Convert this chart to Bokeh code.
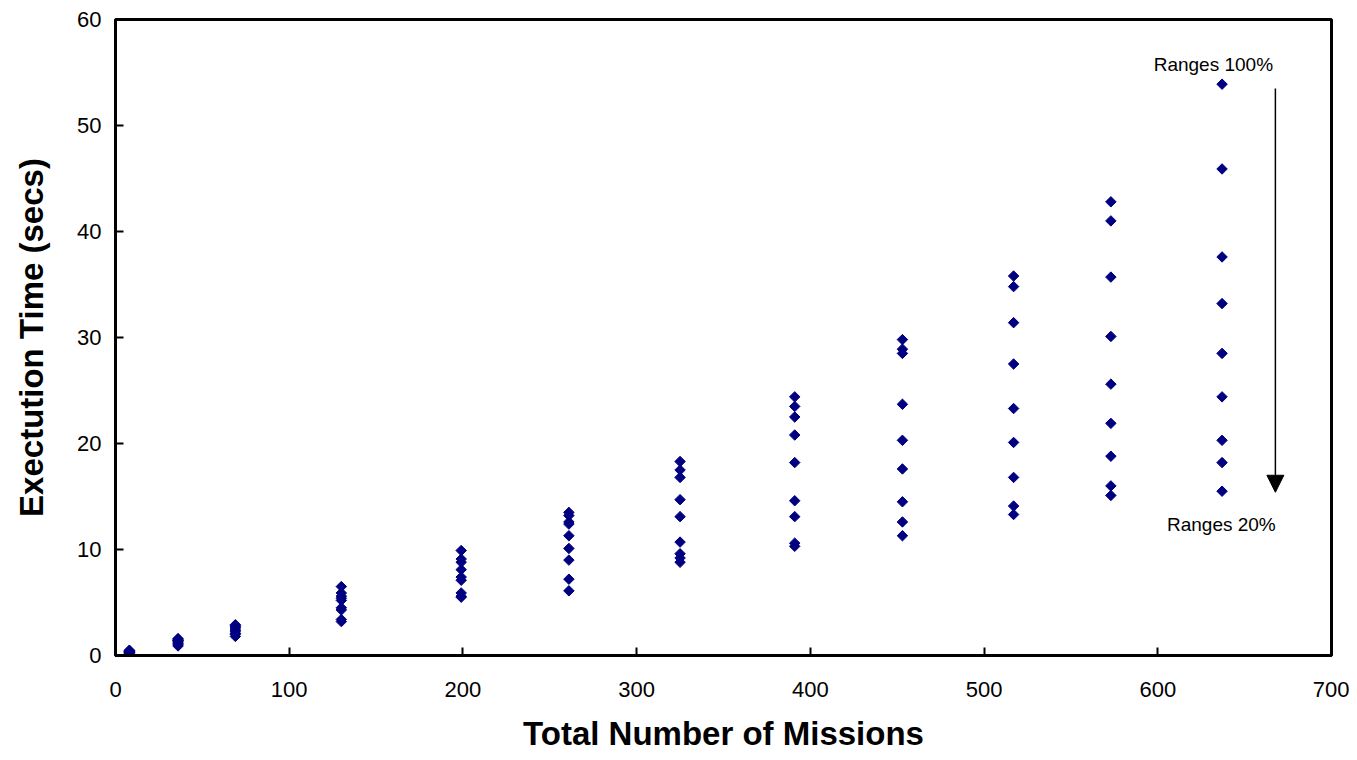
from bokeh.plotting import figure
from bokeh.models import Range1d, FixedTicker, Label, Arrow, NormalHead, ColumnDataSource
from bokeh.embed import file_html
from bokeh.resources import INLINE

# ---- data ----
missions = [8, 36, 69, 130, 199, 261, 325, 391, 453, 517, 573, 637]
range_100 = [0.5, 1.6, 2.9, 6.5, 9.9, 13.5, 18.3, 24.4, 29.8, 35.8, 42.8, 53.9]
range_90 = [0.45, 1.5, 2.8, 5.9, 9.1, 13.2, 17.5, 23.5, 28.9, 34.8, 41.0, 45.9]
range_80 = [0.4, 1.4, 2.7, 5.6, 8.8, 12.6, 16.8, 22.5, 28.5, 31.4, 35.7, 37.6]
range_70 = [0.4, 1.4, 2.6, 5.4, 8.1, 12.4, 14.7, 20.8, 23.7, 27.5, 30.1, 33.2]
range_60 = [0.35, 1.3, 2.4, 5.2, 7.4, 11.3, 13.1, 18.2, 20.3, 23.3, 25.6, 28.5]
range_50 = [0.3, 1.2, 2.3, 4.5, 7.1, 10.1, 10.7, 14.6, 17.6, 20.1, 21.9, 24.4]
range_40 = [0.3, 1.1, 2.1, 4.3, 5.9, 9.0, 9.6, 13.1, 14.5, 16.8, 18.8, 20.3]
range_30 = [0.25, 1.0, 2.0, 3.4, 5.6, 7.2, 9.2, 10.6, 12.6, 14.1, 16.0, 18.2]
range_20 = [0.2, 0.9, 1.8, 3.2, 5.5, 6.1, 8.8, 10.3, 11.3, 13.3, 15.1, 15.5]
x_ticks = [0, 100, 200, 300, 400, 500, 600, 700]
y_ticks = [0, 10, 20, 30, 40, 50, 60]
x_title = "Total Number of Missions"
y_title = "Exectution Time (secs)"
top_note = "Ranges 100%"
bottom_note = "Ranges 20%"

all_series = [range_100, range_90, range_80, range_70, range_60,
              range_50, range_40, range_30, range_20]
xs, ys = [], []
for s in all_series:
    xs.extend(missions)
    ys.extend(s)
src = ColumnDataSource(dict(x=xs, y=ys))

FONT = "Liberation Sans"

p = figure(width=1349, height=760, output_backend="svg", toolbar_location=None,
           x_range=Range1d(0, 700), y_range=Range1d(0, 60),
           min_border_left=115, min_border_right=18, min_border_top=19,
           min_border_bottom=105)
p.background_fill_color = "white"
p.border_fill_color = "white"
p.outline_line_color = "black"
p.outline_line_width = 3
p.xgrid.visible = False
p.ygrid.visible = False

p.scatter("x", "y", source=src, marker="square", angle=0.7854, size=7.4,
          fill_color="#000080", line_color="#000080", line_width=1)

for ax in (p.xaxis[0], p.yaxis[0]):
    ax.axis_line_color = "black"
    ax.axis_line_width = 3
    ax.major_tick_in = 8
    ax.major_tick_out = 0
    ax.major_tick_line_color = "black"
    ax.major_tick_line_width = 2
    ax.minor_tick_line_color = None
    ax.major_label_text_font = FONT
    ax.major_label_text_font_size = "22px"
    ax.major_label_text_color = "black"
    ax.axis_label_text_font = FONT
    ax.axis_label_text_font_style = "bold"
    ax.axis_label_text_font_size = "33px"
    ax.axis_label_text_color = "black"

p.xaxis.ticker = FixedTicker(ticks=x_ticks)
p.yaxis.ticker = FixedTicker(ticks=y_ticks)
p.xaxis.axis_label = x_title
p.yaxis.axis_label = y_title
p.xaxis.major_label_standoff = 26
p.yaxis.major_label_standoff = 14
p.xaxis.axis_label_standoff = 15
p.yaxis.axis_label_standoff = 24

p.add_layout(Arrow(end=NormalHead(size=17, fill_color="black", line_color="black"),
                   x_start=667.7, y_start=53.5, x_end=667.7, y_end=15.4,
                   line_color="black", line_width=1.5))

p.add_layout(Label(x=632, y=55.8, text=top_note, text_align="center",
                   text_baseline="middle", text_font=FONT, text_font_size="19px",
                   text_color="black"))
p.add_layout(Label(x=636.6, y=12.4, text=bottom_note, text_align="center",
                   text_baseline="middle", text_font=FONT, text_font_size="19px",
                   text_color="black"))

open("out.html", "w").write(file_html(p, INLINE))
